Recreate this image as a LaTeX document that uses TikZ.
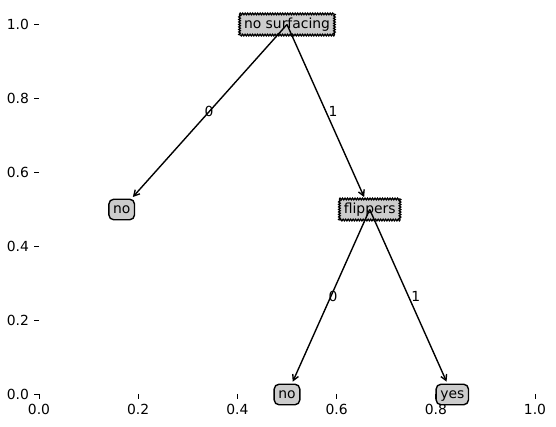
\documentclass[tikz,border=0pt]{standalone}
\usepackage{fontspec}
\setmainfont{DejaVu Sans}
\usetikzlibrary{decorations.pathmorphing,arrows.meta}
\definecolor{boxgray}{gray}{0.8}
\tikzset{
  decnode/.style={fill=boxgray,
    inner xsep=3pt, inner ysep=2.6pt, text height=7.4pt, text depth=2.2pt, font=\fontsize{10pt}{12pt}\selectfont},
  saw/.style={line width=0.9pt, decorate, decoration={zigzag,segment length=1.8pt,amplitude=0.6pt}},
  leafnode/.style={draw=black, fill=boxgray, line width=1pt, rounded corners=3.5pt,
    inner xsep=3pt, inner ysep=2.6pt, text height=7.4pt, text depth=2.2pt, font=\fontsize{10pt}{12pt}\selectfont},
  edge/.style={line width=1pt, {Straight Barb[length=4pt,width=4.5pt]}-, shorten <=1.5pt},
  elabel/.style={anchor=base west, inner sep=0pt, font=\fontsize{10pt}{12pt}\selectfont},
  tick/.style={line width=0.7pt},
  ticklab/.style={inner sep=0pt, font=\fontsize{10pt}{12pt}\selectfont}
}
\begin{document}
\begin{tikzpicture}[x=0.72pt,y=-0.72pt]
\useasboundingbox (0,0) rectangle (556,427);
% y ticks
\foreach \v/\t in {0/0.0,0.2/0.2,0.4/0.4,0.6/0.6,0.8/0.8,1/1.0}{
  \draw[tick] ({39},{394-370*\v}) -- ({39-4.86},{394-370*\v});
  \node[ticklab, anchor=east] (yl\t) at ({39-9.72},{394-370*\v}) {\t};
}
% x ticks
\foreach \v/\t in {0/0.0,0.2/0.2,0.4/0.4,0.6/0.6,0.8/0.8,1/1.0}{
  \draw[tick] ({39+496*\v},394) -- ({39+496*\v},{394+4.86});
  \node[ticklab, anchor=north, text height=7.4pt] (xl\t) at ({39+496*\v},{394+9.72}) {\t};
}
% nodes
\node[decnode] (ns) at (287,24.5) {no surfacing};
\node[leafnode] (l1) at (121.7,209.5) {no};
\node[decnode] (fl) at (369.7,209.5) {flippers};
\node[leafnode] (l2) at (287,394.5) {no};
\node[leafnode] (l3) at (452.3,394.5) {yes};
% sawtooth borders
\foreach \n in {ns,fl}{
  \draw[saw] (\n.north west) -- (\n.north east);
  \draw[saw] (\n.north east) -- (\n.south east);
  \draw[saw] (\n.south east) -- (\n.south west);
  \draw[saw] (\n.south west) -- (\n.north west);
}
% edges (head at child)
\draw[edge] (l1) -- (ns.center);
\draw[edge] (fl) -- (ns.center);
\draw[edge] (l2) -- (fl.center);
\draw[edge] (l3) -- (fl.center);
% edge labels
\node[elabel] (e1) at (204.3,116.5) {0};
\node[elabel] (e2) at (328.3,116.5) {1};
\node[elabel] (e3) at (328.3,301.5) {0};
\node[elabel] (e4) at (411,301.5) {1};
\end{tikzpicture}
\end{document}
